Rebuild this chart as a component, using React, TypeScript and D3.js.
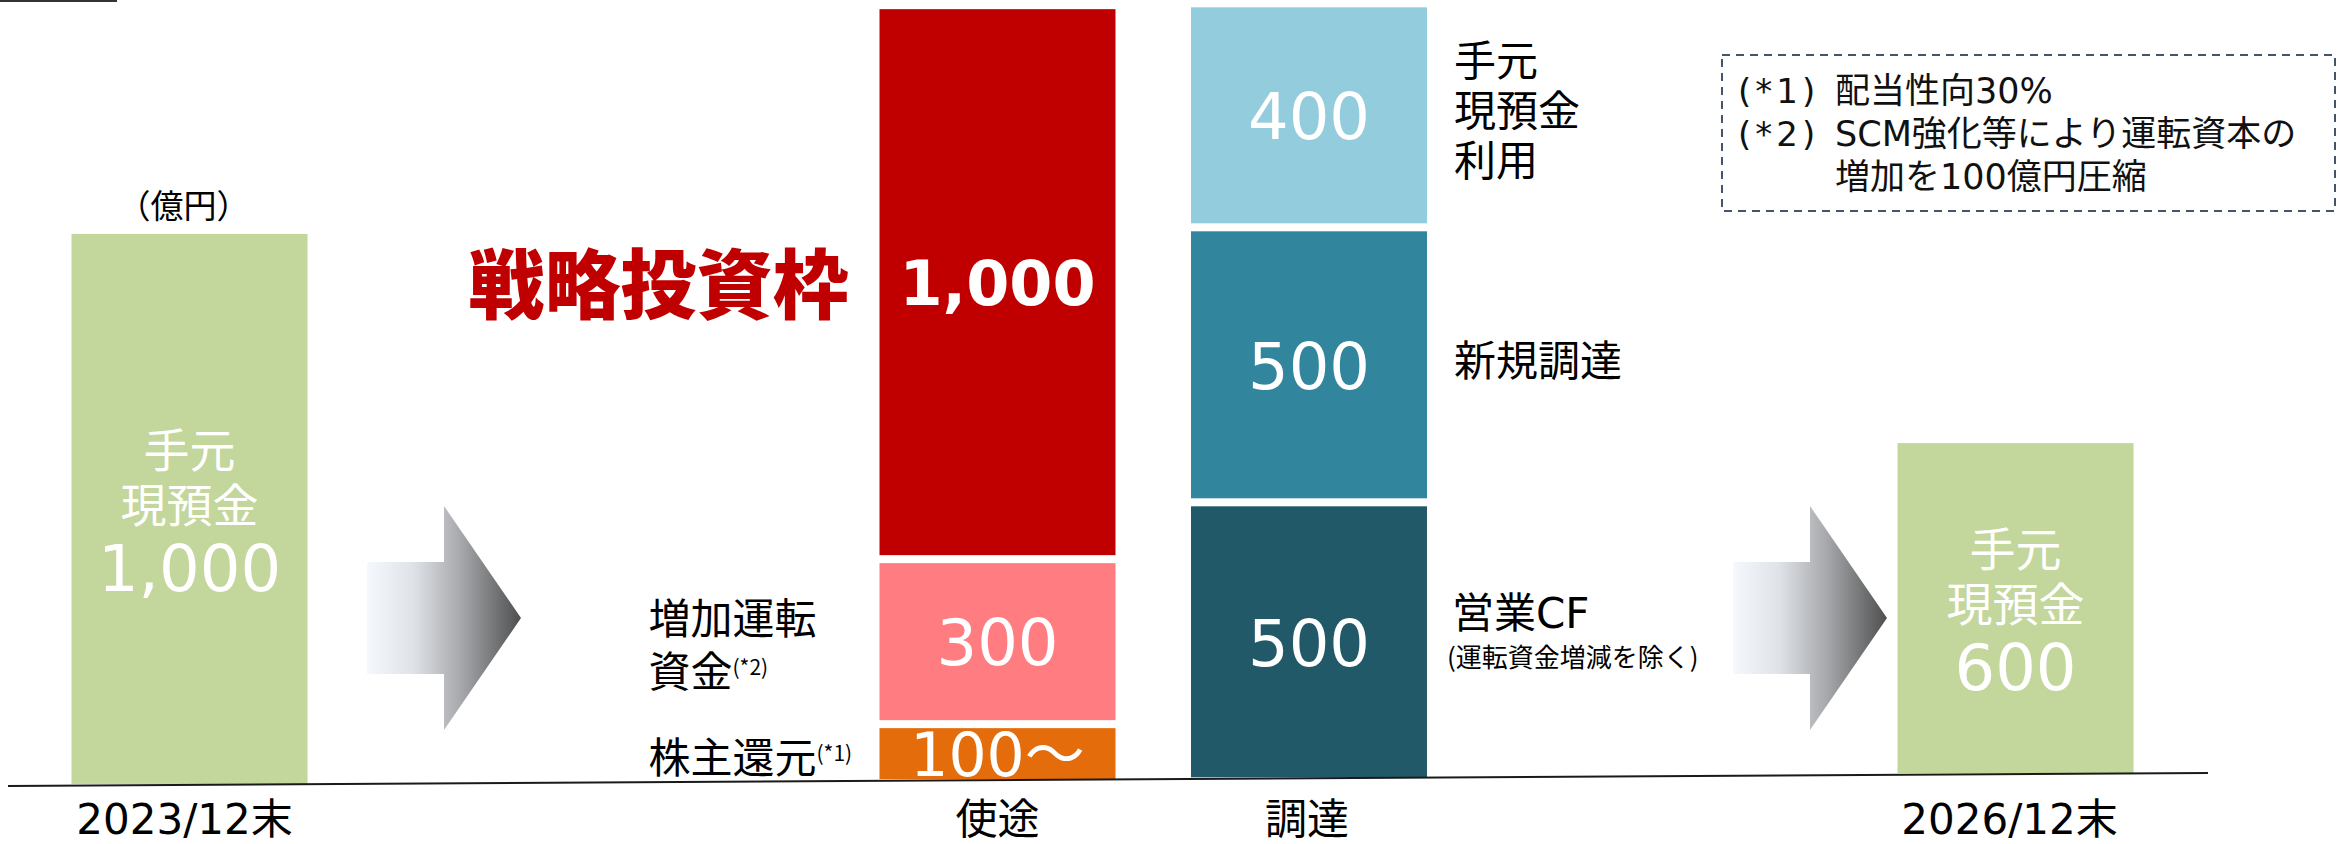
import React from 'react';
import * as d3 from 'd3';

// ---------- data ----------
const columns = ['2023/12末', '使途', '調達', '2026/12末'];
const cashStartValue = 1000;
const cashEndValue = 600;
const cashLines = ['手元', '現預金'];
const cashStartText = '1,000';
const cashEndText = '600';

const useValues = [100, 300, 1000];
const useTexts = ['100～', '300', '1,000'];
const useLabelLines = [['株主還元'], ['増加運転', '資金'], []];
const useNotes = ['(*1)', '(*2)', ''];
const strategicTitle = '戦略投資枠';

const sourceValues = [500, 500, 400];
const sourceTexts = ['500', '500', '400'];
const sourceLabelLines = [['営業CF'], ['新規調達'], ['手元', '現預金', '利用']];
const sourceSubNotes = ['(運転資金増減を除く)', '', ''];

const unitLabel = '（億円）';
const footnoteMarks = ['(*1)', '(*2)', ''];
const footnoteLines = ['配当性向30%', 'SCM強化等により運転資本の', '増加を100億円圧縮'];

// ---------- styling ----------
const W = 2349;
const H = 844;
const FONT = "'DejaVu Sans', 'Noto Sans CJK JP', sans-serif";
const JP = "'Noto Sans CJK JP', 'DejaVu Sans', sans-serif";
const green = '#c3d69b';
const useColors = ['#e46c0a', '#ff7c80', '#c00000'];
const sourceColors = ['#215968', '#31859c', '#93cddd'];
const barWidth = 236;
const gap = 8;

export default function App() {
  const xCenter = d3.scaleOrdinal<string, number>().domain(columns).range([189.5, 997.5, 1309, 2015.5]);
  const baseline = d3.scaleLinear().domain([8, 2208]).range([786, 773]);
  const h = d3.scaleLinear().domain([0, 1400]).range([0, 770]);

  const bottomOf = (c: string) => baseline(xCenter(c)) - 1;

  const stack = (c: string, values: number[]) => {
    let cum = 0;
    const base = bottomOf(c);
    return values.map((v, i) => {
      const bot = base - h(cum) - (i > 0 ? gap / 2 : 0);
      const top = base - h(cum + v) + (i < values.length - 1 ? gap / 2 : 0);
      cum += v;
      return { top, bot, mid: (top + bot) / 2 };
    });
  };

  const useSegs = stack(columns[1], useValues);
  const srcSegs = stack(columns[2], sourceValues);

  const cashBar = (c: string, value: number, valText: string) => {
    const bot = bottomOf(c);
    const top = bot - h(value);
    const cx = xCenter(c);
    const mid = (top + bot) / 2;
    return { cx, top, bot, mid, valText };
  };
  const left = cashBar(columns[0], cashStartValue, cashStartText);
  const right = cashBar(columns[3], cashEndValue, cashEndText);

  const arrowPath = (cx: number, cy: number) => {
    const w = 154, sh = 56, hh = 112, hl = 77;
    const x0 = cx - w / 2, x1 = cx + w / 2, xh = x1 - hl;
    return `M${x0},${cy - sh}L${xh},${cy - sh}L${xh},${cy - hh}L${x1},${cy}L${xh},${cy + hh}L${xh},${cy + sh}L${x0},${cy + sh}Z`;
  };

  const uCx = xCenter(columns[1]);
  const sCx = xCenter(columns[2]);

  return (
    <svg width={W} height={H} style={{ position: 'absolute', left: 0, top: 0, display: 'block', background: '#fff' }}>
      <defs>
        <linearGradient id="arrowGrad" x1="0" x2="1" y1="0" y2="0">
          <stop offset="0%" stopColor="#f5f8fc" />
          <stop offset="30%" stopColor="#dfe2e7" />
          <stop offset="60%" stopColor="#a8aaad" />
          <stop offset="100%" stopColor="#4f4f4f" />
        </linearGradient>
      </defs>

      {/* top-left rule */}
      <line x1={0} x2={117} y1={1} y2={1} stroke="#333" strokeWidth={2} />

      {/* cash bars */}
      {[left, right].map((b, i) => (
        <g key={'cash' + i}>
          <rect x={b.cx - barWidth / 2} y={b.top} width={barWidth} height={b.bot - b.top} fill={green} />
          <text x={b.cx} y={b.mid - 62} textAnchor="middle" dominantBaseline="central" fontFamily={JP} fontSize={46} fill="#fff">
            {cashLines.map((t, j) => (
              <tspan key={j} x={b.cx} dy={j === 0 ? 0 : 55}>{t}</tspan>
            ))}
            <tspan x={b.cx} dy={67} fontFamily={FONT} fontSize={64}>{b.valText}</tspan>
          </text>
        </g>
      ))}
      <text x={left.cx - 6} y={left.top - 30} textAnchor="middle" dominantBaseline="central" fontFamily={JP} fontSize={33} fill="#000">{unitLabel}</text>

      {/* arrows */}
      <path d={arrowPath(444, 618)} fill="url(#arrowGrad)" />
      <path d={arrowPath(1810, 618)} fill="url(#arrowGrad)" />

      {/* uses column */}
      {useSegs.map((s, i) => {
        const lines = useLabelLines[i];
        const lx = uCx - barWidth / 2 - 231;
        return (
          <g key={'use' + i}>
            <rect x={uCx - barWidth / 2} y={s.top} width={barWidth} height={s.bot - s.top} fill={useColors[i]} />
            <text x={uCx} y={s.mid + 1} textAnchor="middle" dominantBaseline="central" fontFamily={FONT}
              fontSize={i === 2 ? 62 : i === 0 ? 60 : 64} fontWeight={i === 2 ? 700 : 400} fill="#fff">{useTexts[i]}</text>
            {lines.length ? (
              <text x={lx} y={s.mid - ((lines.length - 1) / 2) * 53} dominantBaseline="central" fontFamily={JP} fontSize={42} fill="#000">
                {lines.map((t, j) => (
                  <tspan key={j} x={lx} dy={j === 0 ? 0 : 53}>{t}</tspan>
                ))}
                {useNotes[i] ? <tspan fontSize={21} dy={-2}>{useNotes[i]}</tspan> : null}
              </text>
            ) : null}
          </g>
        );
      })}
      <text x={uCx - barWidth / 2 - 31} y={useSegs[2].mid - 2} textAnchor="end" dominantBaseline="central"
        fontFamily={JP} fontSize={76} fontWeight={900} fill="#c00000">{strategicTitle}</text>

      {/* sources column */}
      {srcSegs.map((s, i) => {
        const lines = sourceLabelLines[i];
        const lx = sCx + barWidth / 2 + 27;
        return (
          <g key={'src' + i}>
            <rect x={sCx - barWidth / 2} y={s.top} width={barWidth} height={s.bot - s.top} fill={sourceColors[i]} />
            <text x={sCx} y={s.mid + 2} textAnchor="middle" dominantBaseline="central" fontFamily={FONT} fontSize={64} fill="#fff">{sourceTexts[i]}</text>
            {sourceSubNotes[i] ? (
              <text x={lx - 2} y={s.mid - 28} dominantBaseline="central" fontFamily={FONT} fontSize={42} fill="#000">
                {lines[0]}
                <tspan x={lx - 7} dy={41} fontFamily={JP} fontSize={26}>{sourceSubNotes[i]}</tspan>
              </text>
            ) : (
              <text x={lx} y={s.mid - 8 - ((lines.length - 1) / 2) * 50} dominantBaseline="central" fontFamily={JP} fontSize={42} fill="#000">
                {lines.map((t, j) => (
                  <tspan key={j} x={lx} dy={j === 0 ? 0 : 50}>{t}</tspan>
                ))}
              </text>
            )}
          </g>
        );
      })}

      {/* baseline */}
      <line x1={8} x2={2208} y1={baseline(8)} y2={baseline(2208)} stroke="#1a1a1a" strokeWidth={2} />

      {/* category labels */}
      {columns.map((c, i) => (
        <text key={c} x={xCenter(c) + (i === 0 ? -5 : i === 3 ? -6 : i === 2 ? -2 : 0)} y={819} textAnchor="middle" dominantBaseline="central"
          fontFamily={FONT} fontSize={42} fill="#000">{c}</text>
      ))}

      {/* footnote box */}
      <rect x={1722} y={55} width={613} height={156} fill="none" stroke="#44546a" strokeWidth={2} strokeDasharray="8 6" />
      {footnoteLines.map((t, i) => (
        <g key={'fn' + i}>
          {footnoteMarks[i] ? (
            <text x={1738} y={91 + i * 43} dominantBaseline="central" fontFamily={FONT} fontSize={34} letterSpacing={4} fill="#111">{footnoteMarks[i]}</text>
          ) : null}
          <text x={1835} y={91 + i * 43} dominantBaseline="central" fontFamily={FONT} fontSize={35} fill="#111">{t}</text>
        </g>
      ))}
    </svg>
  );
}
